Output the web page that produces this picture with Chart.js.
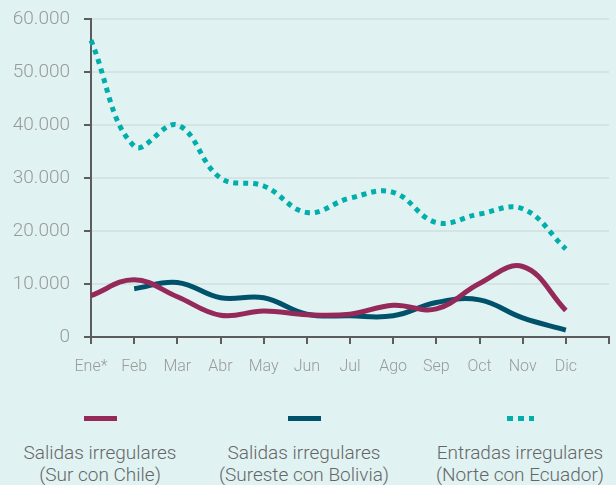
<!DOCTYPE html>
<html>
<head>
<meta charset="utf-8">
<script src="https://cdn.jsdelivr.net/npm/chart.js@4.4.1/dist/chart.umd.min.js"></script>
<style>
  html, body { margin: 0; padding: 0; background: #e0f2f2; }
  body { width: 616px; height: 485px; position: relative; overflow: hidden; font-family: Roboto, 'Noto Sans', sans-serif; }
  #wrap { position: absolute; left: 0; top: 0; width: 616px; height: 385px; }
  .leg { position: absolute; top: 416px; width: 220px; margin-left: -110px; text-align: center; }
  .leg .mark { height: 5px; margin: 0 auto; }
  .leg .txt { margin-top: 21px; font-size: 19px; font-weight: 300; color: #666; line-height: 22px; }
</style>
</head>
<body>
<div id="wrap"><canvas id="chart" width="616" height="385"></canvas></div>
<div id="legend"></div>
<script>
const months = ['Ene*', 'Feb', 'Mar', 'Abr', 'May', 'Jun', 'Jul', 'Ago', 'Sep', 'Oct', 'Nov', 'Dic', ''];

const surChile = [7800, 10800, 7600, 4100, 4900, 4200, 4300, 6000, 5300, 10100, 13300, 5000];
const suresteBolivia = [null, 9100, 10300, 7400, 7400, 4300, 4000, 4000, 6500, 7000, 3600, 1300];
const norteEcuador = [56000, 36000, 40000, 30000, 28500, 23500, 26200, 27300, 21600, 23200, 24200, 16600];

const seriesNames = [
  ['Salidas irregulares', '(Sur con Chile)'],
  ['Salidas irregulares', '(Sureste con Bolivia)'],
  ['Entradas irregulares', '(Norte con Ecuador)']
];
const colors = ['#952959', '#00526b', '#00aeab'];
const legendCenters = [100, 304, 520];

const fmt = v => String(v).replace(/\B(?=(\d{3})+(?!\d))/g, '.');

const ctx = document.getElementById('chart').getContext('2d');
new Chart(ctx, {
  type: 'line',
  data: {
    labels: months,
    datasets: [
      { label: seriesNames[0].join(' '), data: surChile, borderColor: colors[0], borderWidth: 5, tension: 0.4, pointRadius: 0 },
      { label: seriesNames[1].join(' '), data: suresteBolivia, borderColor: colors[1], borderWidth: 5, tension: 0.4, pointRadius: 0 },
      { label: seriesNames[2].join(' '), data: norteEcuador, borderColor: colors[2], borderWidth: 5, borderDash: [5, 5], tension: 0.4, pointRadius: 0 }
    ]
  },
  options: {
    responsive: false,
    animation: false,
    layout: { padding: { top: 19, right: 7, left: 0, bottom: 0 } },
    plugins: { legend: { display: false }, tooltip: { enabled: false } },
    scales: {
      x: {
        offset: false,
        afterFit: s => { s.height = 48; s.paddingLeft = 0; s.paddingRight = 0; },
        border: { display: true, color: '#5c5c5c', width: 2 },
        grid: { drawOnChartArea: false, drawTicks: true, tickLength: 7, tickColor: '#5c5c5c', lineWidth: 2 },
        ticks: { color: '#9a9a9a', font: { family: 'Roboto', size: 16, weight: 300 }, padding: 13, maxRotation: 0, autoSkip: false }
      },
      y: {
        min: 0,
        max: 60000,
        afterFit: s => { s.width = 91; s.paddingTop = 0; s.paddingBottom = 0; },
        border: { display: true, color: '#5c5c5c', width: 2 },
        grid: { color: '#d4e4e4', lineWidth: 2, drawTicks: true, tickLength: 7, tickColor: '#5c5c5c' },
        ticks: { stepSize: 10000, color: '#9a9a9a', font: { family: 'Roboto', size: 19, weight: 300 }, padding: 14, callback: v => fmt(v) }
      }
    }
  }
});

// legend in HTML, markers above two-line labels
const legend = document.getElementById('legend');
seriesNames.forEach((name, i) => {
  const item = document.createElement('div');
  item.className = 'leg';
  item.style.left = legendCenters[i] + 'px';
  const mark = document.createElement('div');
  mark.className = 'mark';
  if (i === 2) {
    mark.style.width = '27px';
    mark.style.background = 'repeating-linear-gradient(90deg, ' + colors[i] + ' 0 6px, transparent 6px 11px)';
  } else {
    mark.style.width = '33px';
    mark.style.background = colors[i];
  }
  const txt = document.createElement('div');
  txt.className = 'txt';
  txt.innerHTML = name[0] + '<br>' + name[1];
  item.appendChild(mark);
  item.appendChild(txt);
  legend.appendChild(item);
});
</script>
</body>
</html>
